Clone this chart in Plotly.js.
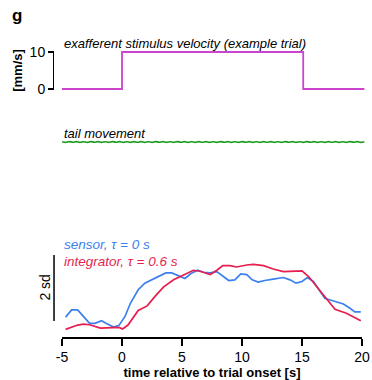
<!DOCTYPE html>
<html>
<head>
<meta charset="utf-8">
<script src="https://cdn.plot.ly/plotly-3.0.1.min.js"></script>
<style>html,body{margin:0;padding:0;background:#fff;}#chart{width:372px;height:380px;}</style>
</head>
<body>
<div id="chart"></div>
<script>
// stimulus velocity (mm/s), step trace
var stimTime = [-5, 0, 15.1, 20.2];
var stimVel = [0, 10, 0, 0];

// tail movement (arbitrary units, nearly flat)
var tailTime = [-5,-4.7,-4.4,-4.1,-3.8,-3.5,-3.2,-2.9,-2.6,-2.3,-2,-1.7,-1.4,-1.1,-0.8,-0.5,-0.2,0.1,0.4,0.7,1,1.3,1.6,1.9,2.2,2.5,2.8,3.1,3.4,3.7,4,4.3,4.6,4.9,5.2,5.5,5.8,6.1,6.4,6.7,7,7.3,7.6,7.9,8.2,8.5,8.8,9.1,9.4,9.7,10,10.3,10.6,10.9,11.2,11.5,11.8,12.1,12.4,12.7,13,13.3,13.6,13.9,14.2,14.5,14.8,15.1,15.4,15.7,16,16.3,16.6,16.9,17.2,17.5,17.8,18.1,18.4,18.7,19,19.3,19.6,19.9,20.2];
var tailMove = [0.05,-0.06,0.07,-0.05,0.06,-0.07,0.05,-0.06,0.07,-0.05,0.06,-0.06,0.05,-0.06,0.07,-0.05,0.06,-0.07,0.05,-0.06,0.06,-0.05,0.06,-0.07,0.05,-0.06,0.07,-0.05,0.06,-0.06,0.05,-0.06,0.07,-0.05,0.06,-0.07,0.05,-0.06,0.06,-0.05,0.06,-0.07,0.05,-0.06,0.07,-0.05,0.06,-0.06,0.05,-0.06,0.07,-0.05,0.06,-0.07,0.05,-0.06,0.06,-0.05,0.06,-0.07,0.05,-0.06,0.07,-0.05,0.06,-0.06,0.05,-0.06,0.07,-0.05,0.06,-0.07,0.05,-0.06,0.06,-0.05,0.06,-0.07,0.05,-0.06,0.07,-0.05,0.06,-0.06,0.05];

// model responses (sd units)
var sensorTime = [-4.7,-4.2,-3.7,-2.7,-2.25,-1.7,-1.3,-0.7,-0.25,0.25,0.7,1.35,1.9,2.9,3.65,4.15,4.7,5.25,5.75,6.3,6.8,7.35,7.9,8.4,8.9,9.4,9.9,10.4,10.85,11.35,11.9,12.6,13.45,14.0,14.5,15.0,15.45,15.95,16.4,16.9,17.35,17.9,18.45,19.0,19.4,19.9];
var sensorResp = [0.39,0.61,0.61,0.20,0.20,0.28,0.20,0.09,0.14,0.41,0.81,1.22,1.42,1.60,1.73,1.73,1.64,1.56,1.71,1.81,1.75,1.73,1.77,1.64,1.50,1.52,1.70,1.68,1.52,1.45,1.50,1.54,1.59,1.52,1.42,1.47,1.59,1.47,1.22,0.96,0.91,0.86,0.79,0.66,0.55,0.55];
var integTime = [-4.7,-3.7,-3.2,-2.7,-1.8,-1.0,-0.25,0.05,0.5,1.35,2.1,2.75,3.45,4.3,5.1,5.95,6.5,7.35,7.9,8.4,9.0,9.55,10.4,10.95,11.8,12.6,13.45,14.3,15.0,15.55,16.1,16.65,17.2,17.75,18.7,19.3,19.9];
var integResp = [0.02,0.15,0.18,0.16,0.06,0.08,0.08,0.03,0.15,0.59,0.73,1.02,1.30,1.52,1.65,1.81,1.78,1.68,1.81,1.95,1.95,1.91,1.97,1.99,1.95,1.85,1.77,1.79,1.79,1.62,1.37,1.12,0.86,0.63,0.51,0.39,0.28];

var xTicks = [-5, 0, 5, 10, 15, 20];
var xTickText = ['-5', '0', '5', '10', '15', '20'];
var yTicks = [0, 10];
var yTickText = ['0', '10'];

var FONT = 'Liberation Sans, Arial, Helvetica, sans-serif';
var MAG = '#cc44cc', GREEN = '#1a9a1a', BLUE = '#3a80f0', RED = '#e61e50';

var traces = [
  {x: stimTime, y: stimVel, xaxis: 'x2', yaxis: 'y', mode: 'lines', line: {shape: 'hv', color: MAG, width: 1.8}, hoverinfo: 'skip'},
  {x: tailTime, y: tailMove, xaxis: 'x2', yaxis: 'y3', mode: 'lines', line: {shape: 'spline', color: GREEN, width: 1.7}, hoverinfo: 'skip'},
  {x: sensorTime, y: sensorResp, xaxis: 'x', yaxis: 'y4', mode: 'lines', line: {color: BLUE, width: 1.7}, hoverinfo: 'skip'},
  {x: integTime, y: integResp, xaxis: 'x', yaxis: 'y4', mode: 'lines', line: {color: RED, width: 1.7}, hoverinfo: 'skip'}
];

var layout = {
  width: 372, height: 380,
  margin: {l: 10, r: 7, t: 0, b: 43},
  paper_bgcolor: '#fff', plot_bgcolor: 'rgba(0,0,0,0)',
  showlegend: false,
  font: {family: FONT, color: '#000', size: 13},
  xaxis: {
    domain: [0.1465, 0.9915], range: [-5, 20], anchor: 'y4',
    showline: true, linecolor: '#000', linewidth: 1.5,
    ticks: 'outside', ticklen: 7, tickwidth: 1.5, tickcolor: '#000',
    tickvals: xTicks, ticktext: xTickText, tickfont: {size: 14},
    showgrid: false, zeroline: false,
    title: {text: '<b>time relative to trial onset [s]</b>', font: {size: 13}, standoff: 2}
  },
  xaxis2: {domain: [0.1465, 1], range: [-5, 20.25], anchor: 'y', visible: false},
  yaxis: {
    domain: [0.7326, 0.849], range: [-0.3, 10.3], anchor: 'free', position: 0.1211,
    showline: true, linecolor: '#000', linewidth: 1.3,
    ticks: 'outside', ticklen: 5, tickwidth: 1.3, tickcolor: '#000',
    tickvals: yTicks, ticktext: yTickText, tickfont: {size: 14},
    showgrid: false, zeroline: false,
    title: {text: '<b>[mm/s]</b>', font: {size: 13}, standoff: 2}
  },
  yaxis3: {domain: [0.5638, 0.5935], range: [-1, 1], anchor: 'x2', visible: false},
  yaxis4: {domain: [0, 0.2878], range: [-0.212, 2.727], anchor: 'x', visible: false},
  shapes: [
    {type: 'line', xref: 'paper', yref: 'y4', x0: 0.124, x1: 0.124, y0: 0.27, y1: 2.27, line: {color: '#000', width: 1.5}}
  ],
  annotations: [
    {text: '<b>g</b>', xref: 'paper', yref: 'paper', x: 0.02, y: 0.955, showarrow: false, font: {size: 17}, xanchor: 'center', yanchor: 'middle'},
    {text: '<i>exafferent stimulus velocity (example trial)</i>', xref: 'paper', yref: 'paper', x: 0.1465, y: 0.8724, showarrow: false, font: {size: 13}, xanchor: 'left', yanchor: 'middle'},
    {text: '<i>tail movement</i>', xref: 'paper', yref: 'paper', x: 0.1465, y: 0.6053, showarrow: false, font: {size: 13}, xanchor: 'left', yanchor: 'middle'},
    {text: '<i>sensor, \u03c4 = 0 s</i>', xref: 'paper', yref: 'paper', x: 0.1465, y: 0.273, showarrow: false, font: {size: 13.5, color: BLUE}, xanchor: 'left', yanchor: 'middle'},
    {text: '<i>integrator, \u03c4 = 0.6 s</i>', xref: 'paper', yref: 'paper', x: 0.1465, y: 0.2226, showarrow: false, font: {size: 13.5, color: RED}, xanchor: 'left', yanchor: 'middle'},
    {text: '2 sd', xref: 'paper', yref: 'y4', x: 0.1, y: 1.27, showarrow: false, textangle: -90, font: {size: 14}, xanchor: 'center', yanchor: 'middle'}
  ]
};

Plotly.newPlot('chart', traces, layout, {displayModeBar: false, staticPlot: true});
</script>
</body>
</html>
